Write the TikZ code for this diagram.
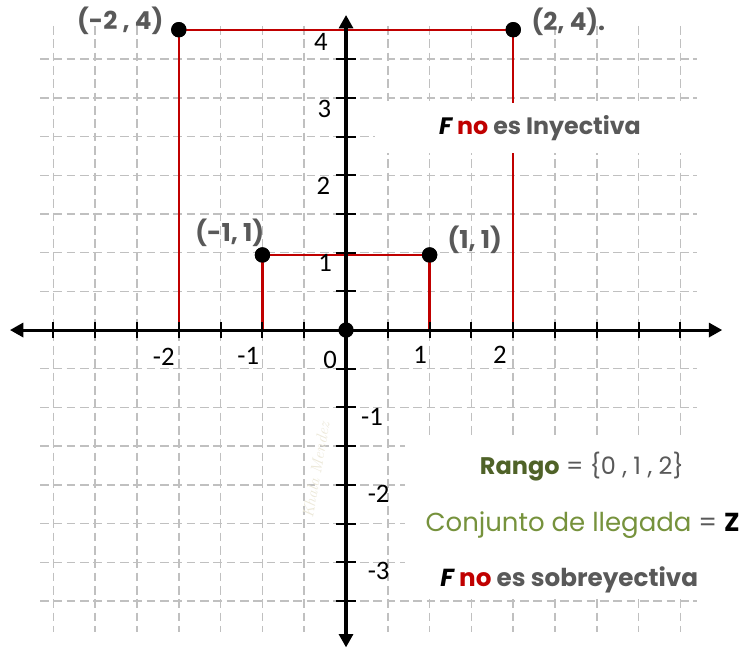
\documentclass[tikz,border=0pt]{standalone}
\usepackage{fontspec}
\usepackage{tikz}
\usetikzlibrary{arrows.meta}
\newfontfamily\gotica{Poppins}
\newfontfamily\calibri{Carlito}
\definecolor{rojofuerte}{RGB}{192,0,0}
\definecolor{grisrejilla}{RGB}{192,192,192}
\definecolor{gristexto}{RGB}{89,89,89}
\definecolor{verdeoliva}{RGB}{79,98,40}
\definecolor{verdeclaro}{RGB}{118,146,60}
\definecolor{firma}{RGB}{236,232,216}
\tikzset{
  rejilla/.style={
    grisrejilla,
    line width=1.1pt,
    dash pattern=on 6.5pt off 3.5pt
  },
  eje/.style={
    line width=2.3pt,
    {Triangle[length=10pt,width=10.5pt]}-{Triangle[length=10pt,width=10.5pt]}
  },
  marca/.style={
    line width=1.5pt
  },
  rojo/.style={
    rojofuerte,
    line width=1.7pt
  },
  punto/.style={
    circle,
    fill=black,
    inner sep=0pt,
    minimum size=11.5pt
  },
  etiq/.style={
    inner sep=0pt,
    font=\calibri\fontsize{20}{20}\selectfont
  },
  par/.style={
    inner sep=0pt,
    text=gristexto,
    font=\gotica\bfseries\fontsize{18.5}{18.5}\selectfont
  },
  aviso/.style={
    inner sep=0pt,
    text=gristexto,
    font=\gotica\fontsize{18}{18}\selectfont
  }
}

\begin{document}
\begin{tikzpicture}[x=62.7pt, y=58.05pt]
\useasboundingbox[fill=white] (-4.139,-4.121) rectangle (4.868,4.264);

\foreach \i in {-3.5,-3,...,4} \draw[rejilla] (\i,3.93) -- (\i,-3.9);
\foreach \j in {-3.5,-3,...,3.5} \draw[rejilla] (-3.66,\j) -- (4.2,\j);

\coordinate (xa) at (-2,0);
\coordinate (xb) at (2,0);
\coordinate (xc) at (-1,0);
\coordinate (xd) at (1,0);
\node[punto] (a) at (-2,3.88) {};
\node[punto] (b) at (2,3.88) {};
\node[punto] (c) at (-1,0.97) {};
\node[punto] (d) at (1,0.97) {};

\draw[rojo] (xa) -- (a.center) -- (b.center) -- (xb);
\draw[rojo] (xc) -- (c.center) -- (d.center) -- (xd);

\fill[white] (0.347,2.29) rectangle (4.25,2.93);
\fill[white] (0.70,-3.44) rectangle (4.868,-1.40);

\node[rotate=80, text=firma, font=\itshape\fontsize{12}{12}\selectfont] (firma) at (-0.36,-1.81) {Khala Mendez};

\node[aviso, font=\gotica\bfseries\fontsize{17.8}{17.8}\selectfont] (iny) at (2.32,2.61)
  {\textcolor{black}{\itshape F} \textcolor{rojofuerte}{no} es Inyectiva};
\node[aviso] (rango) at (2.82,-1.77)
  {\textcolor{verdeoliva}{\bfseries Rango} = \{0 , 1 , 2\}};
\node[aviso, font=\gotica\fontsize{19.5}{19.5}\selectfont] (llegada) at (2.83,-2.52)
  {\textcolor{verdeclaro}{Conjunto de llegada} = \textcolor{black}{\bfseries Z}};
\node[aviso, font=\gotica\bfseries\fontsize{18.5}{18.5}\selectfont] (sobre) at (2.67,-3.23)
  {\textcolor{black}{\itshape F} \textcolor{rojofuerte}{no} es sobreyectiva};

\coordinate (izq) at (-4.02,0);
\coordinate (der) at (4.50,0);
\coordinate (arr) at (0,4.07);
\coordinate (aba) at (0,-4.10);
\draw[eje] (izq) -- (der);
\draw[eje] (aba) -- (arr);
\foreach \i in {-3.5,-3,...,-0.5,0.5,1,...,4} \draw[marca] (\i,-0.1) -- (\i,0.1);
\foreach \j in {-3.5,-3,...,-0.5,0.5,1,...,3.5} \draw[marca] (-0.12,\j) -- (0.12,\j);

\node[punto] (o) at (0,0) {};
\node[punto] at (a) {};
\node[punto] at (b) {};
\node[punto] at (c) {};
\node[punto] at (d) {};

\node[etiq] (em2) at (-2.18,-0.34) {-2};
\node[etiq] (em1) at (-1.17,-0.34) {-1};
\node[etiq] (e0) at (-0.19,-0.39) {0};
\node[etiq] (e1) at (0.885,-0.32) {1};
\node[etiq] (e2) at (1.84,-0.32) {2};
\node[etiq] (f4) at (-0.30,3.72) {4};
\node[etiq] (f3) at (-0.26,2.86) {3};
\node[etiq] (f2) at (-0.27,1.86) {2};
\node[etiq] (f1) at (-0.25,0.87) {1};
\node[etiq] (fm1) at (0.31,-1.12) {-1};
\node[etiq] (fm2) at (0.39,-2.11) {-2};
\node[etiq] (fm3) at (0.39,-3.11) {-3};

\node[par] (la) at (-2.70,4.0) {(-2 , 4)};
\node[par] (lb) at (2.66,3.98) {(2, 4).};
\node[par] (lc) at (-1.39,1.25) {(-1, 1)};
\node[par] (ld) at (1.54,1.16) {(1, 1)};
\end{tikzpicture}
\end{document}
